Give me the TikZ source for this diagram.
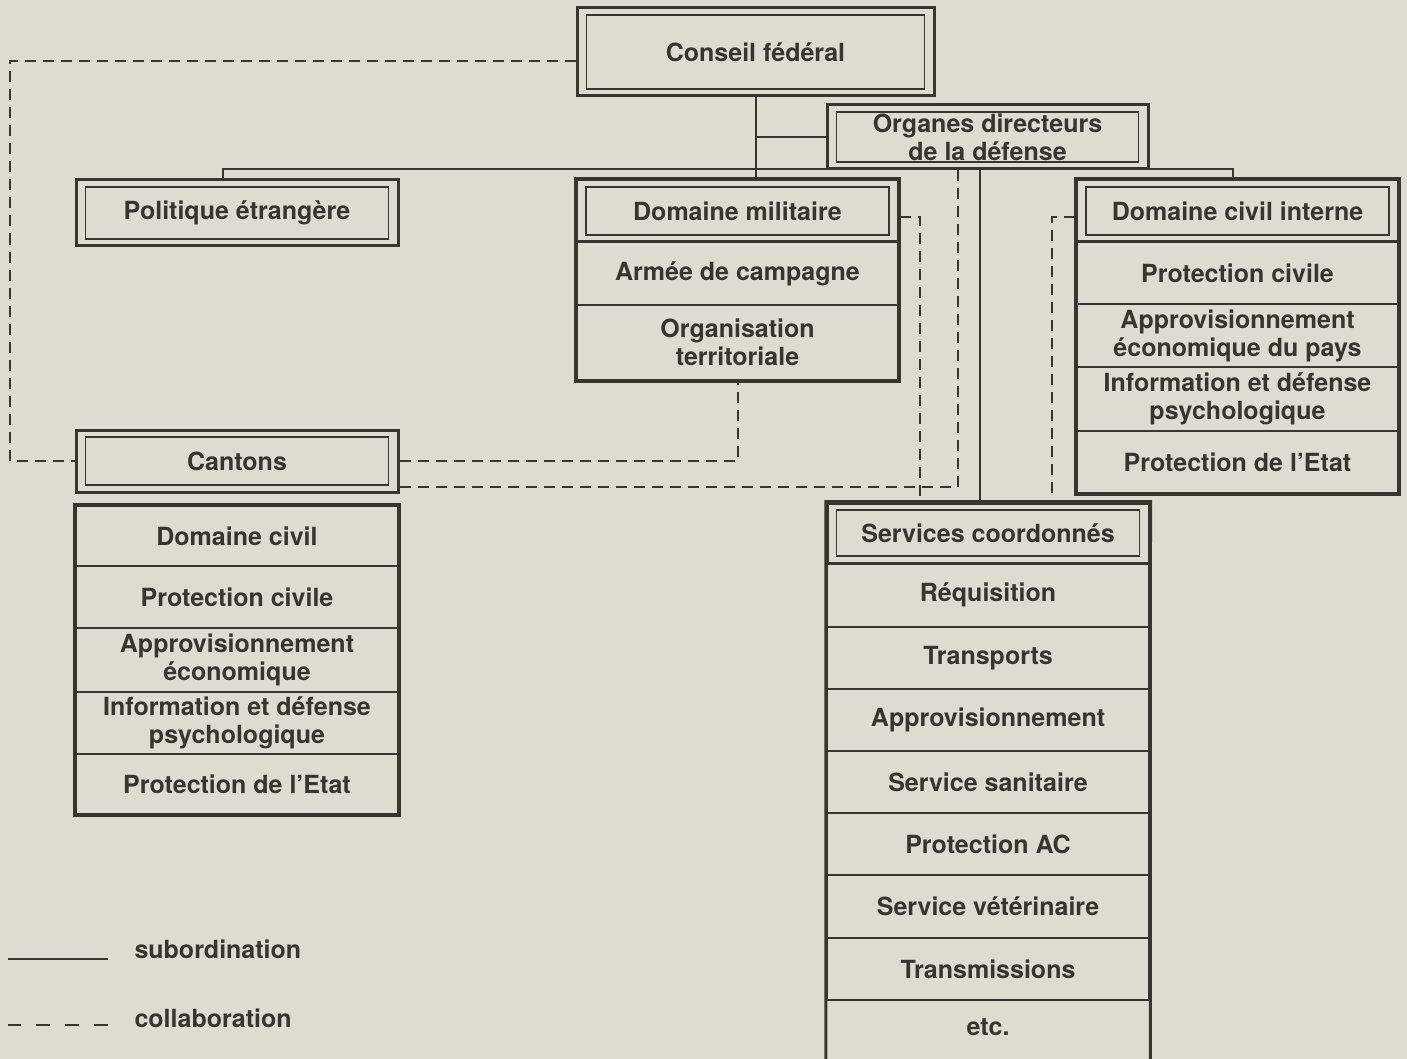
\documentclass[tikz,border=0pt]{standalone}
\usepackage{fontspec}
\setmainfont{TeX Gyre Heros}
\definecolor{papier}{RGB}{221,220,208}
\definecolor{encre}{RGB}{56,53,48}
\tikzset{
  cadre/.style={draw=encre, line width=3pt, inner sep=0pt},
  filet/.style={draw=encre, line width=1.5pt, inner sep=0pt, align=center},
  case/.style={draw=encre, line width=2.5pt, inner sep=0pt, align=center, minimum width=322pt},
  subord/.style={draw=encre, line width=2pt},
  collab/.style={draw=encre, line width=2pt, dash pattern=on 11pt off 7pt},
}
\newcommand\boitedouble[6]{%
  \node[cadre, minimum width=#4, minimum height=#5] (#1) at (#2,#3) {};
  \node[filet, minimum width=#4-19, minimum height=#5-14] (#1-t) at (#1) {#6};}
\begin{document}
\begin{tikzpicture}[x=1pt, y=-1pt, line join=miter, text=encre, font=\bfseries\fontsize{25}{28}\selectfont]
    \useasboundingbox (0,0) rectangle (1407,1059);
    \fill[papier] (0,0) rectangle (1407,1059);
    \clip (0,0) rectangle (1407,1059);
    \boitedouble{cf}{755.5}{52}{357}{88}{Conseil fédéral}
    \boitedouble{od}{987.5}{137}{321}{64}{Organes directeurs\\de la défense}
    \boitedouble{pol}{237}{213}{322}{66}{Politique étrangère}
    \boitedouble{dm}{737.5}{211}{322}{62}{Domaine militaire}
    \boitedouble{dci}{1237.5}{211}{322}{62}{Domaine civil interne}
    \boitedouble{can}{237}{461}{322}{62}{Cantons}
    \boitedouble{srv}{988}{533}{322}{60}{Services coordonnés}
    \foreach \haut/\bas/\txt [count=\i] in {242/305/Armée de campagne, 305/380/Organisation\\territoriale}
        \node[case, minimum height=\bas-\haut] (dm-\i) at (737.5,{(\haut+\bas)/2}) {\txt};
    \foreach \haut/\bas/\txt [count=\i] in {242/304/Protection civile, 304/367/Approvisionnement\\économique du pays,
        367/431/Information et défense\\psychologique, 431/493/Protection de l’Etat}
        \node[case, minimum height=\bas-\haut] (dci-\i) at (1237.5,{(\haut+\bas)/2}) {\txt};
    \foreach \haut/\bas/\txt [count=\i] in {506/566/Domaine civil, 566/628/Protection civile, 628/692/Approvisionnement\\économique,
        692/754/Information et défense\\psychologique, 754/814/Protection de l’Etat}
        \node[case, minimum height=\bas-\haut] (civ-\i) at (237,{(\haut+\bas)/2}) {\txt};
    \foreach \haut/\bas/\txt [count=\i] in {563/627/Réquisition, 627/689/Transports, 689/751/Approvisionnement, 751/813/Service sanitaire,
        813/875/Protection AC, 875/938/Service vétérinaire, 938/1000/Transmissions}
        \node[case, minimum height=\bas-\haut] (srv-\i) at (988,{(\haut+\bas)/2}) {\txt};
    \node[case, draw=none, minimum height=54pt] (etc) at (988,1027) {etc.};
    \draw[cadre] (dm.north west) rectangle (dm-2.south east);
    \draw[cadre] (dci.north west) rectangle (dci-4.south east);
    \draw[cadre] (civ-1.north west) rectangle (civ-5.south east);
    \draw[cadre] ([yshift=-20pt]etc.south west) |- (srv.north east) -- ([yshift=-20pt]etc.south east);
    \coordinate (bw) at (223,169);
    \coordinate (be) at (1233,169);
    \coordinate (gauche) at (10,300);
    \draw[subord] (cf.south) -- (cf.south |- dm.north);
    \draw[subord] (cf.south |- od.west) -- (od.west);
    \draw[subord] (pol.north -| bw) -- (bw) -- (be) -- (dci.north -| be);
    \draw[subord] ([xshift=-8pt]od.south) -- ([xshift=-8pt]od.south |- srv.north);
    \draw[collab] ([yshift=-9pt]cf.west) -| (gauche) |- (can.west);
    \draw[collab] (can.east) -| (dm-2.south);
    \draw[collab] ([yshift=-26pt]can.east) -| ([xshift=-30pt]od.south);
    \draw[collab] ([yshift=-6pt]dm.east) -| ([xshift=-68pt]srv.north);
    \draw[collab] ([yshift=-6pt]dci.west) -| ([xshift=64pt]srv.north);
    \node[anchor=base west] (lsub) at (131,958) {subordination};
    \node[anchor=base west] (lcol) at (131,1027) {collaboration};
    \draw[subord] ([xshift=-23pt,yshift=-1pt]lsub.base west) -- ++(-100,0);
    \draw[collab, dash pattern=on 14pt off 15pt] ([xshift=-23pt,yshift=2pt]lcol.base west) -- ++(-100,0);
\end{tikzpicture}
\end{document}
